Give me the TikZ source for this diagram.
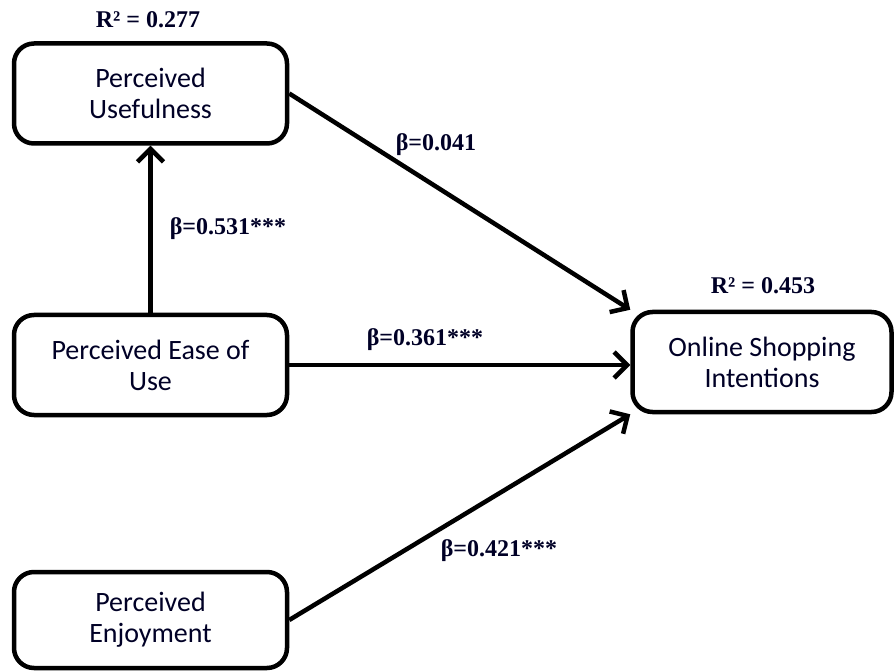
\documentclass[tikz,border=0pt]{standalone}
\usepackage{fontspec}
\setmainfont{Liberation Serif}
\newfontfamily\boxfont{Carlito}
\usetikzlibrary{arrows.meta}
\tikzset{
  construct/.style={draw=black, line width=4.5pt, rounded corners=20pt, fill=white,
    minimum width=273pt, minimum height=100pt, align=center,
    font=\boxfont\fontsize{28}{31}\selectfont, text=black!85!blue, inner sep=0pt},
  path/.style={draw=black, line width=4.5pt, -{Straight Barb[length=13pt,width=26pt,line width=4.5pt]}},
  lbl/.style={font=\bfseries\fontsize{24}{28}\selectfont, text=black!85!blue, inner sep=0pt}
}
\begin{document}
\begin{tikzpicture}[x=1pt,y=-1pt]
\useasboundingbox (0,0) rectangle (895,671);
\node[construct] (pu) at (150.5,93.5) {Perceived\\Usefulness};
\node[construct] (peou) at (150.5,365) {Perceived Ease of\\Use};
\node[construct, minimum height=96pt] (pe) at (150.5,620) {Perceived\\Enjoyment};
\node[construct, minimum width=259pt] (osi) at (762,362) {Online Shopping\\Intentions};
\draw[path] (peou.north) -- (pu.south);
\draw[path] (pu.east) -- (osi.north west);
\draw[path] (peou.east) -- (peou.east -| osi.west);
\draw[path] (pe.east) -- (osi.south west);
\node[lbl] (r1) at (148,20) {R² = 0.277};
\node[lbl] (r2) at (763,286) {R² = 0.453};
\node[lbl] (b1) at (436,145) {β=0.041};
\node[lbl] (b2) at (228,229) {β=0.531***};
\node[lbl] (b3) at (425,340) {β=0.361***};
\node[lbl] (b4) at (499,551) {β=0.421***};
\end{tikzpicture}
\end{document}
